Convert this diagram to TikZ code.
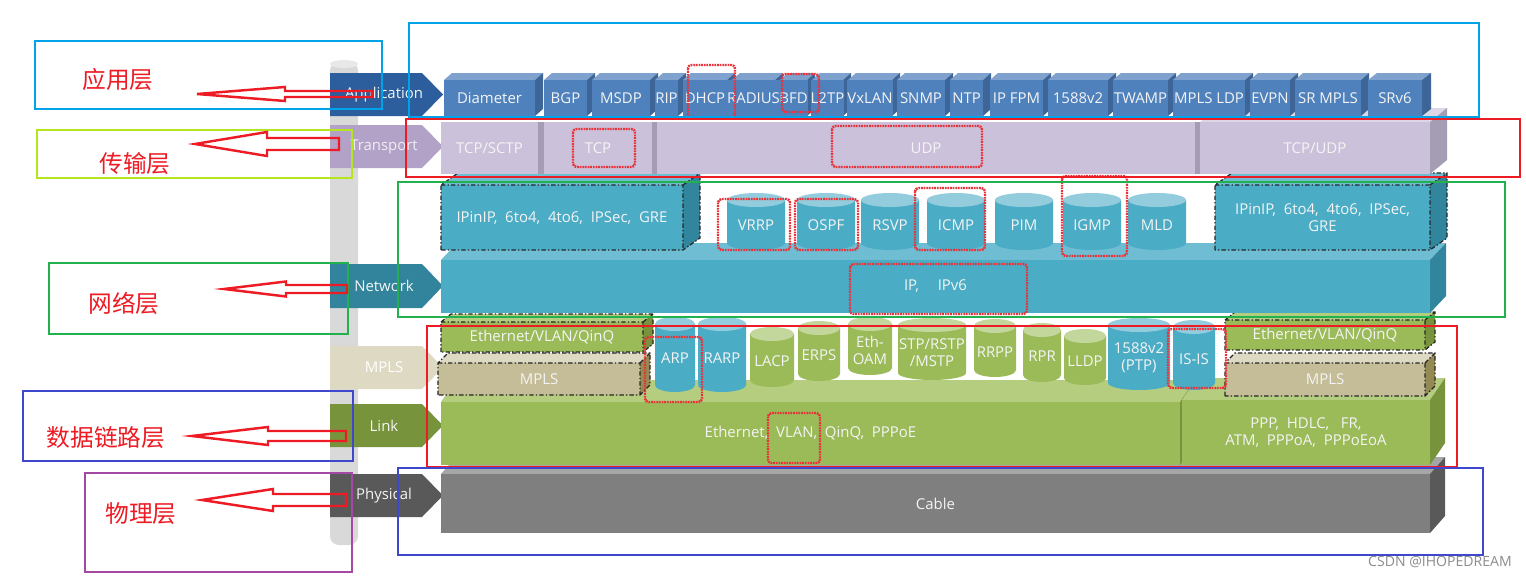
\documentclass[tikz,border=0pt]{standalone}
\usepackage{fontspec}
\setmainfont{Open Sans}
\newfontfamily\cjk{Noto Sans CJK SC}
\definecolor{appfront}{HTML}{4F81BD}\definecolor{apptop}{HTML}{7EA1CE}\definecolor{appside}{HTML}{3D6597}\definecolor{apptag}{HTML}{2C5D9C}
\definecolor{trfront}{HTML}{CCC1DA}\definecolor{trtop}{HTML}{DDD6E6}\definecolor{trside}{HTML}{A59DB3}\definecolor{trtag}{HTML}{B3A2C7}\definecolor{trtext}{HTML}{F0ECF4}
\definecolor{netfront}{HTML}{4BACC6}\definecolor{nettop}{HTML}{6FBDD3}\definecolor{netside}{HTML}{31859C}\definecolor{nettag}{HTML}{31849B}\definecolor{cyltopb}{HTML}{93CDDD}
\definecolor{lkfront}{HTML}{9BBB59}\definecolor{lktop}{HTML}{B4CD7F}\definecolor{lkside}{HTML}{77933C}\definecolor{lktag}{HTML}{77933C}\definecolor{cyltopg}{HTML}{C3D69B}
\definecolor{mpfront}{HTML}{C4BD97}\definecolor{mptop}{HTML}{DDD9C3}\definecolor{mpside}{HTML}{948A54}\definecolor{mptag}{HTML}{DDD9C3}
\definecolor{phfront}{HTML}{7F7F7F}\definecolor{phtop}{HTML}{A6A6A6}\definecolor{phside}{HTML}{595959}\definecolor{phtag}{HTML}{595959}
\definecolor{polecol}{HTML}{D9D9D9}\definecolor{poletop}{HTML}{E8E8E8}
\definecolor{cyanbox}{HTML}{00A2E8}\definecolor{limebox}{HTML}{B5E61D}\definecolor{redbox}{HTML}{ED1C24}
\definecolor{greenbox}{HTML}{22B14C}\definecolor{bluebox}{HTML}{3F48CC}\definecolor{purplebox}{HTML}{A349A4}
\definecolor{markred}{HTML}{E8333A}\definecolor{txt}{HTML}{F4F4F4}
\newcommand\threed[9]{%
  \fill[#8top] (#2,#3) -- (#2+#6,#3-#7) -- (#4+#6,#3-#7) -- (#4,#3) -- cycle;
  \fill[#8side] (#4,#3) -- (#4+#6,#3-#7) -- (#4+#6,#5-#7) -- (#4,#5) -- cycle;
  \node[face, fill=#8front, minimum width={(#4-#2)*0.02cm}, minimum height={(#5-#3)*0.02cm}] (#1) at ({(#2+#4)/2},{(#3+#5)/2}) {#9};
}
\newcommand\wire[6]{%
  \draw[dashbox] (#1,#4) -- (#1,#2) -- (#1+#5,#2-#6) -- (#3+#5,#2-#6) -- (#3+#5,#4-#6) -- (#3,#4) -- cycle
    (#1,#2) -- (#3,#2) -- (#3,#4) (#3,#2) -- (#3+#5,#2-#6);
}
\newcommand\cyl[8]{%
  \fill[#6] (#2-#5,#3) -- (#2-#5,#4) arc[start angle=180,end angle=0,x radius=#5,y radius=7] -- (#2+#5,#3) -- cycle;
  \fill[#7] (#2,#3) ellipse[x radius=#5,y radius=7];
  \node[face] (#1) at (#2,{(#3+#4)/2+4}) {#8};
}
\newcommand\layertag[6]{%
  \fill[#4] (330,#2) -- (422,#2) -- (443,{(#2+#3)/2}) -- (422,#3) -- (330,#3) -- cycle;
  \node[text=#5] (#1) at (384,{(#2+#3)/2}) {#6};
}
\newcommand\harrow[6]{%
  \draw[harrow] (#1,#2) -- (#3,#2-#4) -- (#3,#2-#6) -- (#5,#2-#6) -- (#5,#2+#6) -- (#3,#2+#6) -- (#3,#2+#4) -- cycle;
}
\begin{document}
\begin{tikzpicture}[x=0.02cm,y=-0.02cm,font=\fontsize{8.5}{9.6}\selectfont,
  face/.style={inner sep=0pt,outer sep=0pt,text=txt,align=center},
  dashbox/.style={draw=black!85,line width=0.7pt,dash pattern=on 2.5pt off 1.2pt on 0.8pt off 1.2pt},
  annot/.style={line width=1.6pt},
  markbox/.style={draw=markred,line width=1.4pt,dash pattern=on 1pt off 0.5pt,rounded corners=2pt},
  harrow/.style={draw=redbox,line width=1.4pt,line join=miter},
  cn/.style={font=\cjk\fontsize{13.5}{14}\selectfont,text=redbox}]
\useasboundingbox (0,0) rectangle (1526,578);
\fill[white] (0,0) rectangle (1526,578);
% pole
\fill[polecol,rounded corners=5] (330,62) rectangle (358,545);
\fill[poletop] (344,64) ellipse[x radius=14,y radius=4];
% layer tags
\layertag{tapp}{73}{116}{apptag}{txt}{Application}
\layertag{ttr}{125}{168}{trtag}{trtext}{Transport}
\layertag{tnet}{264}{308}{nettag}{txt}{Network}
\layertag{tmpls}{346}{389}{mptag}{white}{MPLS}
\layertag{tlink}{404}{447}{lktag}{txt}{Link}
\layertag{tphy}{474}{517}{phtag}{txt}{Physical}
% physical
\threed{cable}{441}{474}{1430}{533}{15}{17}{ph}{Cable}
% link
\threed{eth}{441}{402}{1180}{465}{15}{22}{lk}{Ethernet,\ \ VLAN,\ \ QinQ,\ \ PPPoE}
\threed{ppp}{1182}{400}{1430}{465}{15}{22}{lk}{PPP,\ \ HDLC,\ \ \ FR,\\ATM,\ \ PPPoA,\ \ PPPoEoA}
\cyl{arp}{675}{324}{385}{20}{netfront}{cyltopb}{ARP}
\cyl{rarp}{722}{324}{385}{24}{netfront}{cyltopb}{RARP}
\cyl{lacp}{772}{334}{380}{22}{lkfront}{cyltopg}{LACP}
\cyl{erps}{819}{328}{374}{21}{lkfront}{cyltopg}{ERPS}
\cyl{ethoam}{870}{324}{368}{22}{lkfront}{cyltopg}{Eth-\\OAM}
\cyl{stp}{932}{325}{373}{34}{lkfront}{cyltopg}{STP/RSTP\\/MSTP}
\cyl{rrpp}{995}{326}{370}{21}{lkfront}{cyltopg}{RRPP}
\cyl{rpr}{1042}{330}{375}{19}{lkfront}{cyltopg}{RPR}
\cyl{lldp}{1085}{336}{378}{21}{lkfront}{cyltopg}{LLDP}
\cyl{ptp}{1139}{325}{383}{31}{netfront}{cyltopb}{1588v2\\(PTP)}
\cyl{isis}{1194}{327}{383}{21}{netfront}{cyltopb}{IS-IS}
% dashed boxes in link row
\threed{ethl}{441}{322}{643}{352}{10}{8}{lk}{Ethernet/VLAN/QinQ}
\wire{441}{322}{643}{352}{10}{8}
\threed{mplsl}{438}{363}{640}{395}{10}{10}{mp}{MPLS}
\wire{438}{363}{640}{395}{10}{10}
\threed{ethr}{1225}{320}{1425}{350}{10}{8}{lk}{Ethernet/VLAN/QinQ}
\wire{1225}{320}{1425}{350}{10}{8}
\threed{mplsr}{1225}{363}{1425}{396}{10}{10}{mp}{MPLS}
\wire{1225}{363}{1425}{396}{10}{10}
% network
\threed{ip}{441}{260}{1430}{313}{16}{17}{net}{IP,\quad\ IPv6}
\threed{tunl}{441}{185}{683}{250}{17}{12}{net}{IPinIP,\ \ 6to4,\ \ 4to6,\ \ IPSec,\ \ GRE}
\wire{441}{185}{683}{250}{17}{12}
\threed{tunr}{1215}{185}{1430}{250}{17}{12}{net}{IPinIP,\ \ 6to4,\ \ 4to6,\ \ IPSec,\\GRE}
\wire{1215}{185}{1430}{250}{17}{12}
\cyl{vrrp}{756}{200}{243}{29}{netfront}{cyltopb}{VRRP}
\cyl{ospf}{826}{200}{243}{29}{netfront}{cyltopb}{OSPF}
\cyl{rsvp}{890}{200}{243}{29}{netfront}{cyltopb}{RSVP}
\cyl{icmp}{956}{200}{243}{29}{netfront}{cyltopb}{ICMP}
\cyl{pim}{1024}{200}{243}{29}{netfront}{cyltopb}{PIM}
\cyl{igmp}{1092}{200}{243}{29}{netfront}{cyltopb}{IGMP}
\cyl{mld}{1157}{200}{243}{29}{netfront}{cyltopb}{MLD}
% transport
\threed{tcpsctp}{441}{122}{538}{174}{6}{0}{tr}{TCP/SCTP}
\threed{tcp}{544}{122}{652}{174}{5}{0}{tr}{TCP}
\threed{udp}{657}{122}{1195}{174}{5}{0}{tr}{UDP}
\threed{tcpudp}{1200}{122}{1430}{174}{17}{14}{tr}{TCP/UDP}
% application
\threed{diam}{444}{80}{535}{116}{8}{7}{app}{Diameter}
\threed{bgp}{544}{80}{587}{116}{8}{7}{app}{BGP}
\threed{msdp}{592}{80}{650}{116}{8}{7}{app}{MSDP}
\threed{rip}{655}{80}{678}{116}{8}{7}{app}{RIP}
\threed{dhcp}{683}{80}{727}{116}{8}{7}{app}{DHCP}
\threed{radius}{732}{80}{775}{116}{8}{7}{app}{RADIUS}
\threed{bfd}{780}{80}{807}{116}{8}{7}{app}{BFD}
\threed{ltwotp}{812}{80}{843}{116}{8}{7}{app}{L2TP}
\threed{vxlan}{848}{80}{892}{116}{8}{7}{app}{VxLAN}
\threed{snmp}{897}{80}{945}{116}{8}{7}{app}{SNMP}
\threed{ntp}{950}{80}{983}{116}{8}{7}{app}{NTP}
\threed{ipfpm}{990}{80}{1043}{116}{8}{7}{app}{IP FPM}
\threed{ptpapp}{1048}{80}{1108}{116}{8}{7}{app}{1588v2}
\threed{twamp}{1113}{80}{1168}{116}{8}{7}{app}{TWAMP}
\threed{mplsldp}{1173}{80}{1245}{116}{8}{7}{app}{MPLS LDP}
\threed{evpn}{1250}{80}{1290}{116}{8}{7}{app}{EVPN}
\threed{srmpls}{1295}{80}{1361}{116}{8}{7}{app}{SR MPLS}
\threed{srvsix}{1368}{80}{1422}{116}{9}{7}{app}{SRv6}
% red hand-drawn marks
\draw[markbox] (688,65) rectangle (735,118);
\draw[markbox] (782,74) rectangle (819,112);
\draw[markbox] (573,129) rectangle (635,167);
\draw[markbox] (832,126) rectangle (982,167);
\draw[markbox] (718,199) rectangle (790,250);
\draw[markbox] (795,199) rectangle (858,250);
\draw[markbox] (915,188) rectangle (985,250);
\draw[markbox] (1062,176) rectangle (1127,256);
\draw[markbox] (850,264) rectangle (1027,314);
\draw[markbox] (645,337) rectangle (702,402);
\draw[markbox] (1168,329) rectangle (1226,388);
\draw[markbox] (768,413) rectangle (820,463);
% annotation boxes
\draw[annot,cyanbox] (35,41) rectangle (382,109);
\draw[annot,cyanbox] (409,23) rectangle (1479,117);
\draw[annot,limebox] (37,130) rectangle (352,178);
\draw[annot,redbox] (406,119) rectangle (1520,177);
\draw[annot,greenbox] (398,182) rectangle (1505,317);
\draw[annot,greenbox] (49,263) rectangle (348,334);
\draw[annot,redbox] (427,326) rectangle (1457,467);
\draw[annot,bluebox] (23,391) rectangle (353,461);
\draw[annot,purplebox] (85,473) rectangle (352,572);
\draw[annot,bluebox] (398,468) rectangle (1483,555);
% hollow arrows
\harrow{197}{94}{285}{7}{372}{3}
\harrow{195}{144}{267}{12}{339}{6}
\harrow{224}{289}{286}{7.5}{347}{4}
\harrow{192}{436}{268}{9}{346}{5}
\harrow{202}{500}{273}{11}{346}{6}
% chinese labels
\node[cn] (lapp) at (118,79) {应用层};
\node[cn] (ltr) at (135,164) {传输层};
\node[cn] (lnet) at (124,303) {网络层};
\node[cn] (llink) at (106,438) {数据链路层};
\node[cn] (lphy) at (141,514) {物理层};
\node[text=black!45,font=\fontsize{8}{9}\selectfont] (wm) at (1440,562) {CSDN @IHOPEDREAM};
\end{tikzpicture}
\end{document}
